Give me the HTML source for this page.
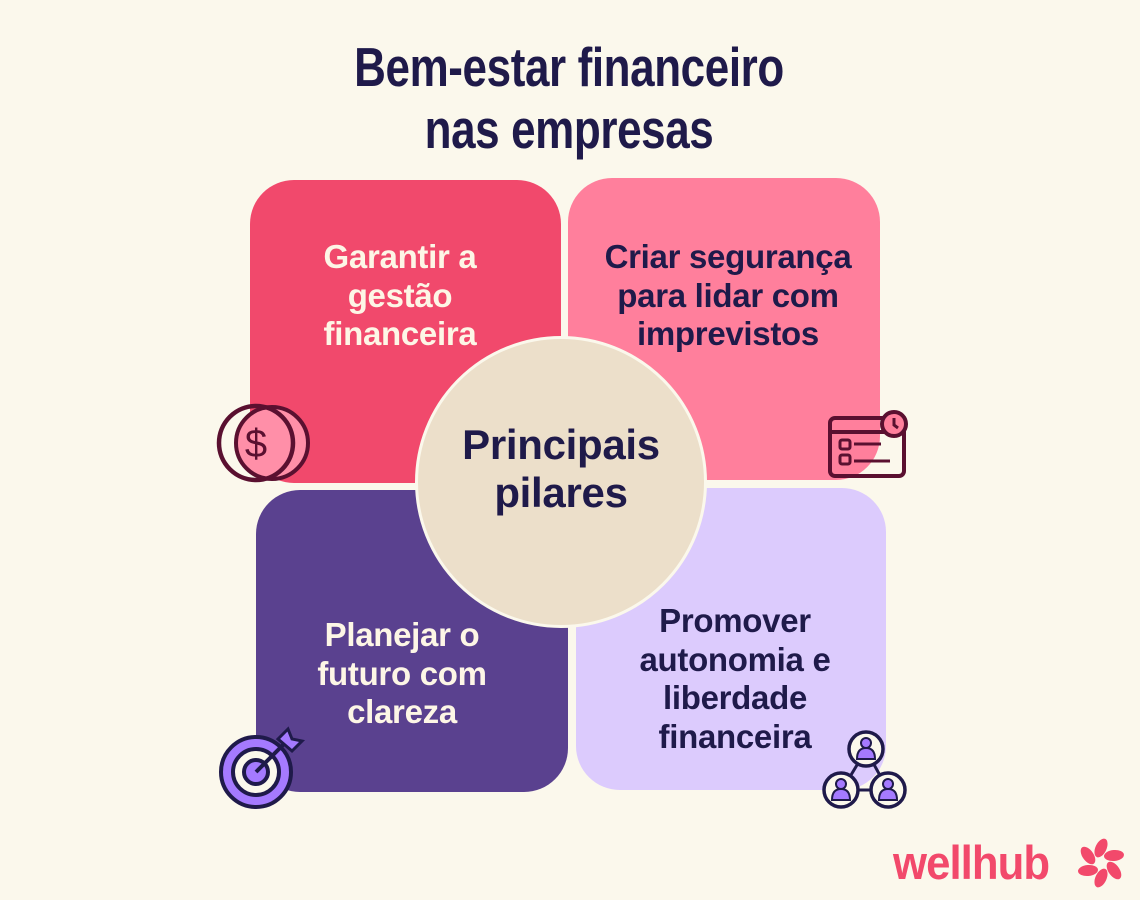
<!DOCTYPE html>
<html><head><meta charset="utf-8"><style>
*{margin:0;padding:0;box-sizing:border-box}
body{width:1140px;height:900px;background:#fbf8ec;position:relative;overflow:hidden;font-family:"Liberation Sans",sans-serif}
.t{position:absolute;left:0;width:1140px;text-align:center;color:#1f1a4a;font-weight:bold;font-size:55px;letter-spacing:-0.5px;line-height:62px;top:36px;transform:scaleX(0.8);transform-origin:565px 0}
.card{position:absolute;border-radius:44px}
.lbl{position:absolute;text-align:center;font-weight:bold;font-size:33px;line-height:38.5px;letter-spacing:-0.3px}
.circ{position:absolute;left:415px;top:336px;width:292px;height:292px;border-radius:50%;background:#ecdfca;border:3px solid #fbf8ec}
svg{position:absolute}
</style></head><body>
<div class="t">Bem-estar financeiro<br>nas empresas</div>
<div class="card" style="left:250px;top:180px;width:311px;height:303px;background:#f1496c"></div>
<div class="card" style="left:568px;top:178px;width:312px;height:302px;background:#ff7f9c"></div>
<div class="card" style="left:256px;top:490px;width:312px;height:302px;background:#5a418f"></div>
<div class="card" style="left:576px;top:488px;width:310px;height:302px;background:#dccbfd"></div>
<div class="lbl" style="left:240px;top:238px;width:320px;color:#fdf6e6">Garantir a<br>gestão<br>financeira</div>
<div class="lbl" style="left:568px;top:238px;width:320px;color:#1f1a4a">Criar segurança<br>para lidar com<br>imprevistos</div>
<div class="lbl" style="left:242px;top:616px;width:320px;color:#fdf6e6">Planejar o<br>futuro com<br>clareza</div>
<div class="lbl" style="left:575px;top:602px;width:320px;color:#1f1a4a">Promover<br>autonomia e<br>liberdade<br>financeira</div>
<div class="circ"></div>
<div class="lbl" style="left:405px;top:421px;width:312px;color:#1f1a4a;font-size:42px;line-height:48px">Principais<br>pilares</div>
<svg style="left:214px;top:400px" width="96" height="86" viewBox="0 0 96 86">
<circle cx="58" cy="43" r="36" fill="#ff8fa8" stroke="#5a1030" stroke-width="4"/>
<circle cx="42" cy="43" r="37" fill="none" stroke="#5a1030" stroke-width="4.5"/>
<text x="42" y="57" text-anchor="middle" font-family="Liberation Sans" font-size="40" fill="#5a1030">$</text>
</svg>
<svg style="left:826px;top:410px" width="84" height="72" viewBox="0 0 84 72">
<rect x="4" y="8" width="74" height="58" rx="5" fill="none" stroke="#5a1030" stroke-width="4"/>
<line x1="4" y1="22" x2="78" y2="22" stroke="#5a1030" stroke-width="4"/>
<rect x="14" y="30" width="10" height="9" rx="2" fill="none" stroke="#5a1030" stroke-width="3"/>
<rect x="14" y="45" width="10" height="9" rx="2" fill="none" stroke="#5a1030" stroke-width="3"/>
<line x1="28" y1="34" x2="55" y2="34" stroke="#5a1030" stroke-width="3"/>
<line x1="28" y1="51" x2="64" y2="51" stroke="#5a1030" stroke-width="3"/>
<circle cx="68" cy="14" r="12" fill="#ff7f9c" stroke="#5a1030" stroke-width="4"/>
<path d="M68 8v7l4 3" fill="none" stroke="#5a1030" stroke-width="3"/>
</svg>
<svg style="left:216px;top:725px" width="92" height="86" viewBox="0 0 92 86">
<circle cx="40" cy="47" r="35" fill="#a57aff" stroke="#1f1a4a" stroke-width="4"/>
<circle cx="40" cy="47" r="23" fill="#fbf8ec" stroke="#1f1a4a" stroke-width="4"/>
<circle cx="40" cy="47" r="12" fill="#a57aff" stroke="#1f1a4a" stroke-width="4"/>
<line x1="40" y1="47" x2="70" y2="17" stroke="#1f1a4a" stroke-width="4"/>
<path d="M62 14l10-10 4 10 10 2-10 10z" fill="#a57aff" stroke="#1f1a4a" stroke-width="3"/>
</svg>
<svg style="left:820px;top:728px" width="92" height="84" viewBox="0 0 92 84">
<line x1="46" y1="22" x2="22" y2="62" stroke="#1f1a4a" stroke-width="3"/>
<line x1="46" y1="22" x2="68" y2="62" stroke="#1f1a4a" stroke-width="3"/>
<line x1="22" y1="62" x2="68" y2="62" stroke="#1f1a4a" stroke-width="3"/>
<g fill="#fbf8ec" stroke="#1f1a4a" stroke-width="3.5">
<circle cx="46" cy="21" r="17"/><circle cx="21" cy="62" r="17"/><circle cx="68" cy="62" r="17"/></g>
<g fill="#a57aff" stroke="#1f1a4a" stroke-width="2">
<circle cx="46" cy="15" r="5"/><path d="M37 31q0-11 9-11t9 11z"/>
<circle cx="21" cy="56" r="5"/><path d="M12 72q0-11 9-11t9 11z"/>
<circle cx="68" cy="56" r="5"/><path d="M59 72q0-11 9-11t9 11z"/></g>
</svg>
<div style="position:absolute;left:893px;top:836px;font-weight:bold;font-size:47px;color:#f2496b;letter-spacing:-1px;line-height:54px;transform:scaleX(0.93);transform-origin:0 0">wellhub</div>
<svg style="left:1074px;top:836px" width="54" height="54" viewBox="-27 -27 54 54">
<g fill="#f2496b">
<ellipse cx="0" cy="-15" rx="5.5" ry="10" transform="rotate(0) rotate(25 0 -15)"/>
<ellipse cx="0" cy="-15" rx="5.5" ry="10" transform="rotate(60) rotate(25 0 -15)"/>
<ellipse cx="0" cy="-15" rx="5.5" ry="10" transform="rotate(120) rotate(25 0 -15)"/>
<ellipse cx="0" cy="-15" rx="5.5" ry="10" transform="rotate(180) rotate(25 0 -15)"/>
<ellipse cx="0" cy="-15" rx="5.5" ry="10" transform="rotate(240) rotate(25 0 -15)"/>
<ellipse cx="0" cy="-15" rx="5.5" ry="10" transform="rotate(300) rotate(25 0 -15)"/>
</g></svg>
</body></html>
